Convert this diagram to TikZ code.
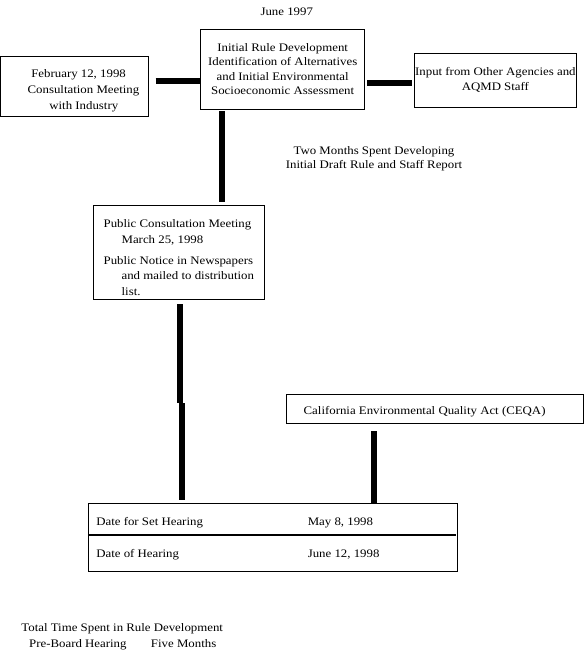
\documentclass[tikz,border=0pt]{standalone}
\usepackage{fontspec}
\setmainfont{Liberation Serif}[FakeStretch=1.117]
\usepackage{tikz}
\tikzstyle{rulebox} = [draw=black, fill=white, line width=0.8pt,
    rectangle, inner sep=0pt, align=center]
\tikzstyle{thickline} = [draw=black, line width=5.5pt]
\tikzstyle{upline} = [draw=black, line width=6pt]
\tikzstyle{plaintext} = [inner sep=0pt, align=center]

\begin{document}
\begin{tikzpicture}[x=1pt, y=-1pt, font=\fontsize{11.5}{14.5}\selectfont]
\useasboundingbox (0,0) rectangle (584,654);
\node[plaintext] (june) at (286.8,11.5) {June 1997};
\node[rulebox, minimum width=163.8, minimum height=80] (init) at (282.7,69) {Initial Rule Development\\Identification of Alternatives\\and Initial Environmental\\Socioeconomic Assessment};
\node[rulebox, minimum width=148, minimum height=60, font=\fontsize{11.5}{16}\selectfont] (feb) at (74.7,86) {\rule{0pt}{16.5pt}\hspace*{7.8pt}February 12, 1998\\\hspace*{17.6pt}Consultation Meeting\\\hspace*{18.2pt}with Industry};
\node[rulebox, minimum width=162.3, minimum height=54] (input) at (495.4,80) {Input from Other Agencies and\\AQMD Staff};
\node[plaintext] (twomonths) at (374,158.5) {Two Months Spent Developing\\Initial Draft Rule and Staff Report};
\node[rulebox, align=left, minimum width=171.3, minimum height=94, font=\fontsize{11.5}{15.5}\selectfont] (pub) at (178.8,252) {\rule{0pt}{19.5pt}Public Consultation Meeting\\
    \hspace*{18pt}March 25, 1998\\[5.5pt]
    Public Notice in Newspapers\\
    \hspace*{18pt}and mailed to distribution\\
    \hspace*{18pt}list.};
\node[rulebox, minimum width=297.2, minimum height=29] (ceqa) at (434.6,408.5) {\rule{0pt}{13.5pt}California Environmental Quality Act (CEQA)\hspace*{20pt}};
\node[rulebox, minimum width=369, minimum height=68] (hear) at (272.8,537) {};
\node[plaintext, anchor=west] (sethear) at (96.1,523) {Date for Set Hearing};
\node[plaintext, anchor=west] (setdate) at (307.6,523) {May 8, 1998};
\node[plaintext, anchor=west] (ofhear) at (96.1,555) {Date of Hearing};
\node[plaintext, anchor=west] (ofdate) at (307.6,555) {June 12, 1998};
\node[plaintext, align=left, anchor=west, font=\fontsize{11.5}{16}\selectfont] (total) at (21.2,637) {Total Time Spent in Rule Development\\
    \hspace*{7.8pt}\makebox[121.8pt][l]{Pre-Board Hearing}Five Months};
% connectors
\coordinate (jog) at (181.5,403);
\draw[thickline, shorten <=6.4pt] (feb.east |- 0,81) -- (init.west |- 0,81);
\draw[thickline, shorten <=2.3pt, shorten >=2.3pt] (init.east |- 0,83) -- (input.west |- 0,83);
\draw[upline, shorten <=2pt, shorten >=3pt] (init.south -| 222.3,0) -- (pub.north -| 222.3,0);
\draw[upline, shorten <=5pt] (pub.south -| 180.3,0) -- (jog -| 180.3,0);
\draw[upline, shorten >=3pt] (jog) -- (hear.north -| jog);
\draw[upline, shorten <=8pt] (ceqa.south -| 373.6,0) -- (hear.north -| 373.6,0);
\draw[line width=2.5pt, shorten >=1.8pt] (hear.west |- 0,535) -- (hear.east |- 0,535);
\end{tikzpicture}
\end{document}
